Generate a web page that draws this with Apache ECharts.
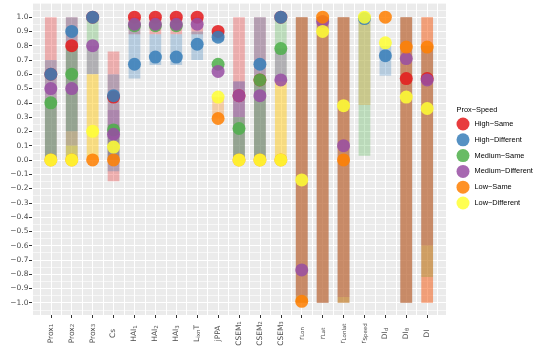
<!DOCTYPE html>
<html>
<head>
<meta charset="utf-8">
<script src="https://cdn.jsdelivr.net/npm/echarts@6/dist/echarts.min.js"></script>
<style>html,body{margin:0;padding:0;background:#fff}#c{width:540px;height:360px}</style>
</head>
<body>
<div id="c"></div>
<script>
// ---- categories (main text, subscript, trailing text) ----
const catBase = ['Prox','Prox','Prox','Cs','HAI','HAI','HAI','L','jPPA','CSEM','CSEM','CSEM','r','r','r','r','DI','DI','DI'];
const catSub  = ['1','2','3','','1','2','3','ixn','','1','2','3','Lon','Lat','Lonlat','Speed','d','θ',''];
const catTail = ['','','','','','','','T','','','','','','','','','','',''];

// ---- y tick values ----
const yTicks = [-1.0, -0.9, -0.8, -0.7, -0.6, -0.5, -0.4, -0.3, -0.2, -0.1, 0.0, 0.1, 0.2, 0.3, 0.4, 0.5, 0.6, 0.7, 0.8, 0.9, 1.0];

// ---- groups ----
const groups = ['High−Same','High−Different','Medium−Same','Medium−Different','Low−Same','Low−Different'];
const groupColors = ['#E41A1C','#377EB8','#4DAF4A','#984EA3','#FF7F00','#FFFF33'];

// ---- point values per group ----
const ptHighSame = [0.60, 0.80, 1.00, 0.44, 1.00, 1.00, 1.00, 1.00, 0.90, 0.45, 0.56, 1.00, null, null, null, null, null, 0.57, 0.57];
const ptHighDiff = [0.60, 0.90, 1.00, 0.45, 0.67, 0.72, 0.72, 0.81, 0.86, null, 0.67, 1.00, null, null, null, 0.99, 0.73, null, null];
const ptMedSame  = [0.40, 0.60, null, 0.21, 0.94, 0.94, 0.94, null, 0.67, 0.22, 0.56, 0.78, null, null, null, null, null, null, null];
const ptMedDiff  = [0.50, 0.50, 0.80, 0.18, 0.95, 0.95, 0.95, 0.95, 0.62, 0.45, 0.45, 0.56, -0.77, 0.97, 0.10, null, null, 0.71, 0.56];
const ptLowSame  = [0.00, 0.00, 0.00, 0.00, null, null, null, null, 0.29, 0.00, 0.00, 0.00, -0.99, 1.00, 0.00, null, 1.00, 0.79, 0.79];
const ptLowDiff  = [0.00, 0.00, 0.20, 0.09, null, null, null, null, 0.44, 0.00, 0.00, 0.00, -0.14, 0.90, 0.38, 1.00, 0.82, 0.44, 0.36];

// ---- range bars (low / high) per group ----
const loHighSame = [0.00, 0.00, null, -0.15, 0.88, 0.88, 0.88, 0.88, 0.84, 0.00, 0.00, null, -1, -1, -1, null, null, -1, -1];
const hiHighSame = [1.00, 1.00, null, 0.76, 1.00, 1.00, 1.00, 1.00, 0.91, 1.00, 1.00, null, 1, 1, 1, null, null, 1, 1];
const loHighDiff = [0.00, 0.20, null, -0.08, 0.57, 0.665, 0.665, 0.70, 0.83, 0.00, 0.00, null, null, null, null, null, 0.59, null, null];
const hiHighDiff = [0.70, 1.00, null, 0.60, 0.95, 0.88, 0.88, 0.90, 0.90, 0.55, 1.00, null, null, null, null, null, 0.80, null, null];
const loMedSame  = [0.00, 0.00, 0.60, 0.00, null, null, null, null, null, 0.00, 0.00, 0.55, -1, -1, -1, 0.03, null, -1, -0.82];
const hiMedSame  = [0.42, 0.80, 1.00, 0.25, null, null, null, null, null, 0.30, 0.56, 1.00, 1, 1, 1, 1.00, null, 1, 0.80];
const loMedDiff  = [null, null, 0.60, 0.00, null, null, null, null, null, 0.30, null, 0.55, -0.95, -1, -0.96, 0.385, null, -1, -0.60];
const hiMedDiff  = [null, null, 0.80, 0.35, null, null, null, null, null, 0.55, null, 0.78, 1, 1, 1, 1.00, null, 1, 0.80];
const loLowSame  = [null, null, 0.00, null, null, null, null, null, 0.29, null, null, 0.00, -1, -1, -1, null, null, -1, -1];
const hiLowSame  = [null, null, 0.60, null, null, null, null, null, 0.44, null, null, 0.55, 1, 1, 1, null, null, 1, 1];
const loLowDiff  = [null, 0.00, 0.00, null, null, null, null, null, null, null, null, 0.00, null, null, null, 0.385, null, null, null];
const hiLowDiff  = [null, 0.10, 0.60, null, null, null, null, null, null, null, null, 0.55, null, null, null, 1.00, null, null, null];

const points = [ptHighSame, ptHighDiff, ptMedSame, ptMedDiff, ptLowSame, ptLowDiff];
const lows   = [loHighSame, loHighDiff, loMedSame, loMedDiff, loLowSame, loLowDiff];
const highs  = [hiHighSame, hiHighDiff, hiMedSame, hiMedDiff, hiLowSame, hiLowDiff];

// ---- layout ----
const X_EXPAND = 0.9;        // panel expansion in category units
const BAR_W = 0.56;          // bar width in category units
const Y_MIN = -1.086, Y_MAX = 1.099;
const PANEL = {left: 32, top: 3, width: 414, height: 312};
const unit = PANEL.width / (catBase.length - 1 + 2 * X_EXPAND);
const labelGrid = {left: PANEL.left + (X_EXPAND - 0.5) * unit, top: PANEL.top,
                   width: PANEL.width - 2 * (X_EXPAND - 0.5) * unit, height: PANEL.height};
const AXIS_FONT = '"DejaVu Sans", sans-serif';
const LEG_FONT = '"Liberation Sans", Arial, sans-serif';

function fmtY(v) {
  const r = Math.round(v * 10) / 10;
  if (Math.abs(r) < 1e-9) return '0.0';
  return (r < 0 ? '−' : '') + Math.abs(r).toFixed(1);
}

function barRenderer(color) {
  return function (params, api) {
    const x = api.value(0), lo = api.value(1), hi = api.value(2);
    const a = api.coord([x - BAR_W / 2, hi]);
    const b = api.coord([x + BAR_W / 2, lo]);
    return {type: 'rect', shape: {x: a[0], y: a[1], width: b[0] - a[0], height: b[1] - a[1]},
            style: {fill: color, opacity: 0.3}};
  };
}

const series = [];
groups.forEach(function (g, k) {
  const d = [];
  lows[k].forEach(function (lo, i) { if (lo !== null && highs[k][i] !== null) d.push([i, lo, highs[k][i]]); });
  series.push({type: 'custom', name: g + ' range', xAxisIndex: 0, yAxisIndex: 0,
    renderItem: barRenderer(groupColors[k]), encode: {x: 0, y: [1, 2]}, data: d, silent: true, z: 2});
});
groups.forEach(function (g, k) {
  const d = [];
  points[k].forEach(function (v, i) { if (v !== null) d.push([i, v]); });
  series.push({type: 'scatter', name: g, xAxisIndex: 0, yAxisIndex: 0, symbol: 'circle', symbolSize: 13,
    itemStyle: {color: groupColors[k], opacity: 0.85, borderWidth: 0}, data: d, z: 3});
});

const chart = echarts.init(document.getElementById('c'), null, {renderer: 'canvas'});
chart.setOption({
  animation: false,
  backgroundColor: '#FFFFFF',
  textStyle: {fontFamily: LEG_FONT},
  title: {text: 'Prox−Speed', left: 456.5, top: 106.5, padding: 0,
    textStyle: {fontSize: 7.4, fontWeight: 'normal', color: '#000', fontFamily: LEG_FONT}},
  legend: {
    orient: 'vertical', left: 456.5, top: 117.5, padding: 0, itemWidth: 13, itemHeight: 13, itemGap: 2.8,
    selectedMode: false, icon: 'circle',
    textStyle: {fontSize: 7.4, color: '#000', fontFamily: LEG_FONT},
    data: groups.map(function (g, k) { return {name: g, icon: 'circle', itemStyle: {color: groupColors[k], opacity: 0.85}}; })
  },
  grid: [
    Object.assign({show: true, backgroundColor: '#EBEBEB', borderWidth: 0}, PANEL),
    Object.assign({show: false}, labelGrid)
  ],
  xAxis: [
    {gridIndex: 0, type: 'value', min: -X_EXPAND, max: catBase.length - 1 + X_EXPAND,
     minInterval: 0.5, maxInterval: 0.5,
     axisLine: {show: false, onZero: false}, axisTick: {show: false}, axisLabel: {show: false},
     splitLine: {show: true, lineStyle: {color: '#FFFFFF', width: 1}}},
    {gridIndex: 1, type: 'category', position: 'bottom', data: catBase.map(function (b, i) { return b + catSub[i] + catTail[i]; }),
     boundaryGap: true,
     axisLine: {show: false, onZero: false},
     axisTick: {show: true, alignWithLabel: true, length: 3, lineStyle: {color: '#333333', width: 1}},
     splitLine: {show: false},
     axisLabel: {
       interval: 0, rotate: 90, align: 'center', verticalAlign: 'middle', margin: 18.5,
       color: '#4D4D4D', fontSize: 7.5, fontFamily: AXIS_FONT,
       formatter: function (val, i) {
         let s = '{m|' + catBase[i] + '}';
         if (catSub[i]) s += '{s|' + catSub[i] + '}';
         if (catTail[i]) s += '{m|' + catTail[i] + '}';
         return s;
       },
       rich: {
         m: {fontSize: 7.5, lineHeight: 8, verticalAlign: 'top', color: '#4D4D4D', fontFamily: AXIS_FONT},
         s: {fontSize: 5.5, lineHeight: 6, verticalAlign: 'bottom', padding: [4, 0, 0, 0], color: '#4D4D4D', fontFamily: AXIS_FONT}
       }
     }}
  ],
  yAxis: [
    {gridIndex: 0, type: 'value', min: Y_MIN, max: Y_MAX, minInterval: 0.1, maxInterval: 0.1, z: 1,
     axisLine: {show: false, onZero: false},
     axisTick: {show: true, length: 3, customValues: yTicks, lineStyle: {color: '#333333', width: 1}},
     axisLabel: {fontSize: 7.5, color: '#4D4D4D', margin: 3.5, fontFamily: AXIS_FONT, formatter: fmtY, customValues: yTicks},
     splitLine: {show: true, lineStyle: {color: '#FFFFFF', width: 1}}},
    {gridIndex: 1, type: 'value', min: Y_MIN, max: Y_MAX, show: false},
    {gridIndex: 0, type: 'value', min: Y_MIN, max: Y_MAX, minInterval: 0.05, maxInterval: 0.05, z: 0,
     axisLine: {show: false, onZero: false}, axisTick: {show: false}, axisLabel: {show: false},
     splitLine: {show: true, lineStyle: {color: '#FFFFFF', width: 0.6}}}
  ],
  series: series
});
</script>
</body>
</html>
